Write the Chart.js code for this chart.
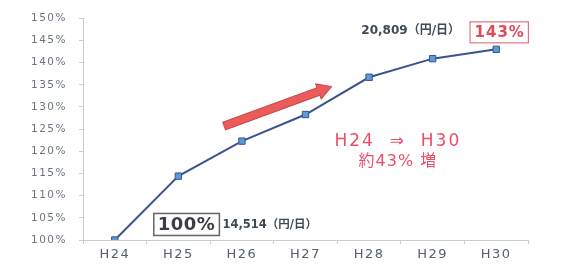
<!DOCTYPE html>
<html>
<head>
<meta charset="utf-8">
<script src="https://cdn.jsdelivr.net/npm/chart.js@4"></script>
<style>
  html, body { margin: 0; padding: 0; background: #fff; }
  #wrap { width: 562px; height: 267px; }
</style>
</head>
<body>
<div id="wrap"><canvas id="myChart"></canvas></div>
<script>
// chart data
let years = ['H24', 'H25', 'H26', 'H27', 'H28', 'H29', 'H30'];
let ratio = [100, 114.4, 122.3, 128.3, 136.7, 140.9, 143];
let yTicks = [100, 105, 110, 115, 120, 125, 130, 135, 140, 145, 150];
let startAmount = '14,514（円/日）';
let endAmount = '20,809（円/日）';

let wide = '"DejaVu Sans", "Noto Sans CJK JP", sans-serif';

// wider letters for the axis labels, like the original
let spacing = {
    id: 'spacing',
    beforeDraw(chart) { chart.ctx.letterSpacing = '1.5px'; },
    beforeDatasetsDraw(chart) { chart.ctx.letterSpacing = '0px'; }
};

// boxes, arrow and notes drawn on top of the chart
let notes = {
    id: 'notes',
    afterDraw(chart) {
        let ctx = chart.ctx;
        let x = chart.scales.x;
        let y = chart.scales.y;
        let first = 0, last = ratio.length - 1;

        ctx.save();
        ctx.textBaseline = 'middle';
        ctx.letterSpacing = '0px';

        // 100% box near the first point
        let bx = x.getPixelForValue(first) + 39;
        let by = y.getPixelForValue(103.5);
        ctx.font = 'bold 18px ' + wide;
        ctx.letterSpacing = '0.5px';
        let w = ctx.measureText('100%').width;
        ctx.fillStyle = '#fff';
        ctx.fillRect(bx, by - 11, w + 8, 22);
        ctx.strokeStyle = '#666';
        ctx.lineWidth = 1.5;
        ctx.strokeRect(bx, by - 11, w + 8, 22);
        ctx.fillStyle = '#3a3f45';
        ctx.textAlign = 'left';
        ctx.fillText('100%', bx + 4, by + 1);
        ctx.font = 'bold 11.5px ' + wide;
        ctx.letterSpacing = '0px';
        ctx.fillStyle = '#3d4a55';
        ctx.fillText(startAmount, bx + w + 11, by + 1);

        // 143% box above the last point
        let ex = x.getPixelForValue(last) + 3;
        let ey = y.getPixelForValue(ratio[last]) - 17;
        ctx.font = 'bold 15px ' + wide;
        ctx.letterSpacing = '1px';
        let label = ratio[last] + '%';
        let w2 = ctx.measureText(label).width;
        ctx.fillStyle = '#fff';
        ctx.fillRect(ex - w2 / 2 - 4, ey - 10.5, w2 + 8, 21);
        ctx.strokeStyle = '#e07580';
        ctx.lineWidth = 1.2;
        ctx.strokeRect(ex - w2 / 2 - 4, ey - 10.5, w2 + 8, 21);
        ctx.fillStyle = '#e04a5a';
        ctx.textAlign = 'center';
        ctx.fillText(label, ex + 0.5, ey + 1);
        ctx.font = 'bold 12px ' + wide;
        ctx.letterSpacing = '0px';
        ctx.fillStyle = '#3d4a55';
        ctx.textAlign = 'right';
        ctx.fillText(endAmount, ex - w2 / 2 - 14, ey - 1);

        // red arrow between H26 and H28
        let ax1 = x.getPixelForValue(1.72), ay1 = y.getPixelForValue(125.7);
        let ax2 = x.getPixelForValue(3.41), ay2 = y.getPixelForValue(134.6);
        let ang = Math.atan2(ay2 - ay1, ax2 - ax1);
        let len = Math.hypot(ax2 - ax1, ay2 - ay1);
        ctx.translate(ax1, ay1);
        ctx.rotate(ang);
        ctx.beginPath();
        ctx.moveTo(0, -4);
        ctx.lineTo(len - 14, -4);
        ctx.lineTo(len - 14, -8);
        ctx.lineTo(len, 0);
        ctx.lineTo(len - 14, 8);
        ctx.lineTo(len - 14, 4);
        ctx.lineTo(0, 4);
        ctx.closePath();
        ctx.fillStyle = '#ec5b5b';
        ctx.fill();
        ctx.strokeStyle = '#c94848';
        ctx.lineWidth = 1;
        ctx.stroke();
        ctx.setTransform(1, 0, 0, 1, 0, 0);

        // growth note
        let nx = (x.getPixelForValue(4) + x.getPixelForValue(5)) / 2 - 3;
        let ny = y.getPixelForValue(122.3);
        ctx.textAlign = 'center';
        ctx.fillStyle = '#e8506a';
        ctx.font = '17px ' + wide;
        ctx.letterSpacing = '2px';
        ctx.fillText('H24  ⇒  H30', nx, ny);
        ctx.font = '16px ' + wide;
        ctx.letterSpacing = '1px';
        ctx.fillText('約43% 増', nx, ny + 21);
        ctx.restore();
    }
};

let ctx = document.getElementById('myChart').getContext('2d');
let chart = new Chart(ctx, {
    type: 'line',
    data: {
        labels: years,
        datasets: [{
            data: ratio,
            borderColor: '#3b5391',
            borderWidth: 2,
            pointStyle: 'rect',
            pointRadius: 4.5,
            pointBackgroundColor: '#5b9bd5',
            pointBorderColor: '#3b5391',
            pointBorderWidth: 1,
            tension: 0
        }]
    },
    options: {
        responsive: true,
        maintainAspectRatio: false,
        animation: false,
        events: [],
        layout: { padding: { top: 14, right: 34, bottom: 0, left: 0 } },
        plugins: { legend: { display: false }, tooltip: { enabled: false } },
        scales: {
            x: {
                offset: true,
                grid: { offset: true, drawOnChartArea: false, tickLength: 4, color: '#ccc' },
                border: { color: '#ccc' },
                ticks: { color: '#56606c', font: { family: wide, size: 13 }, padding: 3 },
                afterFit(scale) { scale.height = 27; }
            },
            y: {
                min: 100,
                max: 150,
                afterBuildTicks(scale) { scale.ticks = yTicks.map(v => ({ value: v })); },
                grid: { drawOnChartArea: false, tickLength: 4, color: '#ccc' },
                border: { color: '#ccc' },
                ticks: {
                    color: '#6b7480',
                    font: { family: wide, size: 10.5 },
                    padding: 12,
                    callback: v => v + '%'
                },
                afterFit(scale) { scale.width = 83; }
            }
        }
    },
    plugins: [spacing, notes]
});
</script>
</body>
</html>
